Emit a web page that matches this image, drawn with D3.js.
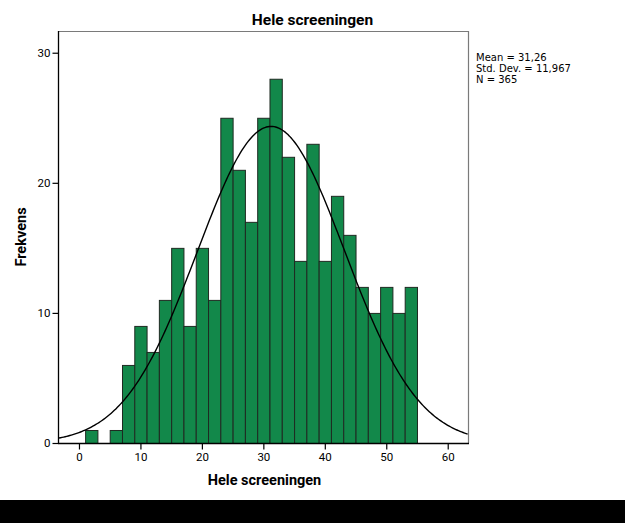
<!DOCTYPE html>
<html>
<head>
<meta charset="utf-8">
<script src="https://cdn.jsdelivr.net/npm/d3@7"></script>
<style>
  html, body { margin: 0; padding: 0; background: #fff; }
  svg { display: block; }
</style>
</head>
<body>
<script>
// ---- data ----
const binStarts = [1,3,5,7,9,11,13,15,17,19,21,23,25,27,29,31,33,35,37,39,41,43,45,47,49,51,53];
const counts    = [1,0,1,6,9,7,11,15,9,15,11,25,21,17,25,28,22,14,23,14,19,16,12,10,12,10,12];
const binWidth = 2;
const xTicks = [0,10,20,30,40,50,60];
const yTicks = [0,10,20,30];
const stats = { mean: 31.26, sd: 11.967, n: 365 };
const statLines = ["Mean = 31,26", "Std. Dev. = 11,967", "N = 365"];
const title = "Hele screeningen";
const xTitle = "Hele screeningen";
const yTitle = "Frekvens";

// ---- layout ----
const W = 625, H = 523;
const plot = { left: 59, right: 468, top: 31, bottom: 443 };
const FONT = "Roboto, 'DejaVu Sans', sans-serif";

const svg = d3.select("body").append("svg").attr("width", W).attr("height", H);
svg.append("rect").attr("x", 0).attr("y", 0).attr("width", W).attr("height", H).attr("fill", "#fff");
svg.append("rect").attr("x", 0).attr("y", 500).attr("width", W).attr("height", H - 500).attr("fill", "#000");

const x = d3.scaleLinear().domain([-3.25, 63.3]).range([plot.left, plot.right]);
const y = d3.scaleLinear().domain([0, 31.67]).range([plot.bottom, plot.top]);

// bars
svg.append("g").selectAll("rect").data(binStarts.map((s, i) => ({ s, c: counts[i] })).filter(d => d.c > 0))
  .join("rect")
  .attr("x", d => x(d.s) + 0.5)
  .attr("y", d => y(d.c) + 0.5)
  .attr("width", d => x(d.s + binWidth) - x(d.s))
  .attr("height", d => y(0) - y(d.c))
  .attr("fill", "#12884a")
  .attr("stroke", "#1f2a22")
  .attr("stroke-width", 1);

// normal curve
svg.append("clipPath").attr("id", "clip").append("rect")
  .attr("x", plot.left).attr("y", plot.top).attr("width", plot.right - plot.left).attr("height", plot.bottom - plot.top);
const pdf = v => stats.n * binWidth * Math.exp(-0.5 * ((v - stats.mean) / stats.sd) ** 2) / (stats.sd * Math.sqrt(2 * Math.PI));
const xs = d3.range(x.domain()[0], x.domain()[1] + 0.01, 0.25);
svg.append("path")
  .attr("clip-path", "url(#clip)")
  .attr("d", d3.line().x(v => x(v)).y(v => y(pdf(v)))(xs))
  .attr("fill", "none").attr("stroke", "#000").attr("stroke-width", 1.4);

// frame (top/right)
svg.append("path")
  .attr("d", `M${plot.left},${plot.top + 0.5}H${plot.right + 0.5}V${plot.bottom}`)
  .attr("fill", "none").attr("stroke", "#7a7a7a").attr("stroke-width", 1.2);

// axes
const xAxis = svg.append("g").attr("transform", `translate(0,${plot.bottom + 0.5})`)
  .call(d3.axisBottom(x).tickValues(xTicks).tickSize(6).tickPadding(3).tickSizeOuter(0));
const yAxis = svg.append("g").attr("transform", `translate(${plot.left - 0.5},0)`)
  .call(d3.axisLeft(y).tickValues(yTicks).tickSize(6).tickPadding(2).tickSizeOuter(0));
[xAxis, yAxis].forEach(a => {
  a.select(".domain").attr("stroke", "#000").attr("stroke-width", 1.3);
  a.selectAll(".tick line").attr("stroke", "#000").attr("stroke-width", 1.2);
  a.selectAll(".tick text").attr("font-size", 11.5).attr("font-family", FONT).attr("fill", "#000");
});
xAxis.select(".domain").attr("d", `M${plot.left - 1},0H${plot.right + 1}`);
yAxis.select(".domain").attr("d", `M0,${plot.top}V${plot.bottom + 1}`);

// titles
svg.append("text").attr("x", 312.5).attr("y", 25).attr("text-anchor", "middle")
  .attr("font-family", FONT).attr("font-size", 15.5).attr("font-weight", "bold").text(title);
svg.append("text").attr("x", 264.5).attr("y", 485).attr("text-anchor", "middle")
  .attr("font-family", FONT).attr("font-size", 14.5).attr("font-weight", "bold").text(xTitle);
svg.append("text").attr("transform", "translate(26,237) rotate(-90)").attr("text-anchor", "middle")
  .attr("font-family", FONT).attr("font-size", 14.5).attr("font-weight", "bold").text(yTitle);

// stats
svg.append("g").selectAll("text").data(statLines).join("text")
  .attr("x", 476).attr("y", (d, i) => 60.5 + i * 11.2)
  .attr("font-family", "'DejaVu Sans', sans-serif")
  .attr("font-size", 10).text(d => d);
</script>
</body>
</html>
